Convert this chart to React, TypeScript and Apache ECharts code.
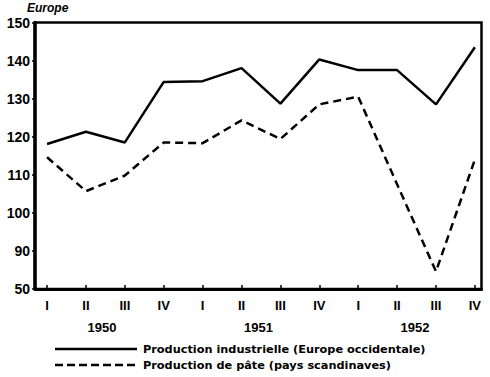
import React, { useEffect, useRef } from "react";
import * as echarts from "echarts";

const quarters = ["I", "II", "III", "IV", "I", "II", "III", "IV", "I", "II", "III", "IV"];
const years = ["1950", "1951", "1952"];
const industrial = [118.1, 121.3, 118.5, 134.4, 134.6, 138.0, 128.7, 140.3, 137.5, 137.5, 128.5, 143.5];
const pulp = [114.6, 105.7, 109.8, 118.5, 118.3, 124.3, 119.4, 128.5, 130.5, 107.5, 84.6, 114.0];
const seriesNames = [
  "Production industrielle (Europe occidentale)",
  "Production de pâte (pays scandinaves)",
];
const yTickLabels: Record<number, string> = { 80: "50", 90: "90", 100: "100", 110: "110", 120: "120", 130: "130", 140: "140", 150: "150" };

export default function App() {
  const ref = useRef<HTMLDivElement>(null);
  useEffect(() => {
    if (!ref.current) return;
    const chart = echarts.init(ref.current, undefined, { renderer: "svg" });
    const font = "Liberation Sans";
    const legendRows = seriesNames.map((name, i) => {
      const y = 349 + i * 16;
      return [
        {
          type: "line",
          shape: { x1: 55, y1: y, x2: 137, y2: y },
          style: { stroke: "#000", lineWidth: 2.5, lineDash: i === 0 ? undefined : [8, 4] },
        },
        {
          type: "text",
          x: 143,
          y: y,
          style: {
            text: name,
            font: `bold 11.3px 'DejaVu Sans'`,
            fill: "#000",
            textVerticalAlign: "middle",
          },
        },
      ];
    }).flat();
    chart.setOption({
      animation: false,
      backgroundColor: "#fff",
      textStyle: { fontFamily: font, color: "#000" },
      grid: {
        left: 35,
        right: 8.5,
        top: 22.5,
        bottom: 88,
        show: true,
        borderColor: "#000",
        borderWidth: 2.5,
        containLabel: false,
      },
      xAxis: {
        type: "value",
        min: -0.31,
        max: 11.17,
        splitLine: { show: false },
        axisLine: { show: true, onZero: false, lineStyle: { color: "#000", width: 3 } },
        axisTick: {
          show: true,
          inside: true,
          length: 4,
          customValues: quarters.map((_, i) => i),
          lineStyle: { color: "#000", width: 1.5 },
        },
        axisLabel: {
          customValues: quarters.map((_, i) => i),
          formatter: (v: number) => quarters[Math.round(v)] ?? "",
          fontFamily: font,
          fontWeight: "bold",
          fontSize: 13,
          color: "#000",
          margin: 10,
        },
      },
      yAxis: {
        type: "value",
        min: 80,
        max: 150,
        interval: 10,
        splitLine: { show: false },
        axisLine: { show: true, onZero: false, lineStyle: { color: "#000", width: 3.5 } },
        axisTick: { show: true, length: 3, lineStyle: { color: "#000", width: 1.5 } },
        axisLabel: {
          formatter: (v: number) => yTickLabels[v] ?? "",
          fontFamily: font,
          fontWeight: "bold",
          fontSize: 14,
          color: "#000",
          margin: 5,
        },
      },
      graphic: [
        {
          type: "text",
          left: 27,
          top: 2,
          style: { text: "Europe", font: `italic bold 12px '${font}'`, fill: "#000" },
        },
        ...years.map((y, i) => ({
          type: "text",
          x: 102 + i * 156.5,
          y: 327,
          style: {
            text: y,
            font: `bold 13px '${font}'`,
            fill: "#000",
            textAlign: "center",
            textVerticalAlign: "middle",
          },
        })),
        ...legendRows,
      ],
      series: [
        {
          name: seriesNames[0],
          type: "line",
          data: industrial.map((v, i) => [i, v]),
          symbol: "none",
          lineStyle: { color: "#000", width: 2.5, type: "solid" },
          itemStyle: { color: "#000" },
        },
        {
          name: seriesNames[1],
          type: "line",
          data: pulp.map((v, i) => [i, v]),
          symbol: "none",
          lineStyle: { color: "#000", width: 2.5, type: [8, 5] },
          itemStyle: { color: "#000" },
        },
      ],
    });
    return () => chart.dispose();
  }, []);
  return <div ref={ref} style={{ width: 490, height: 377, position: "absolute", left: 0, top: 0 }} />;
}
